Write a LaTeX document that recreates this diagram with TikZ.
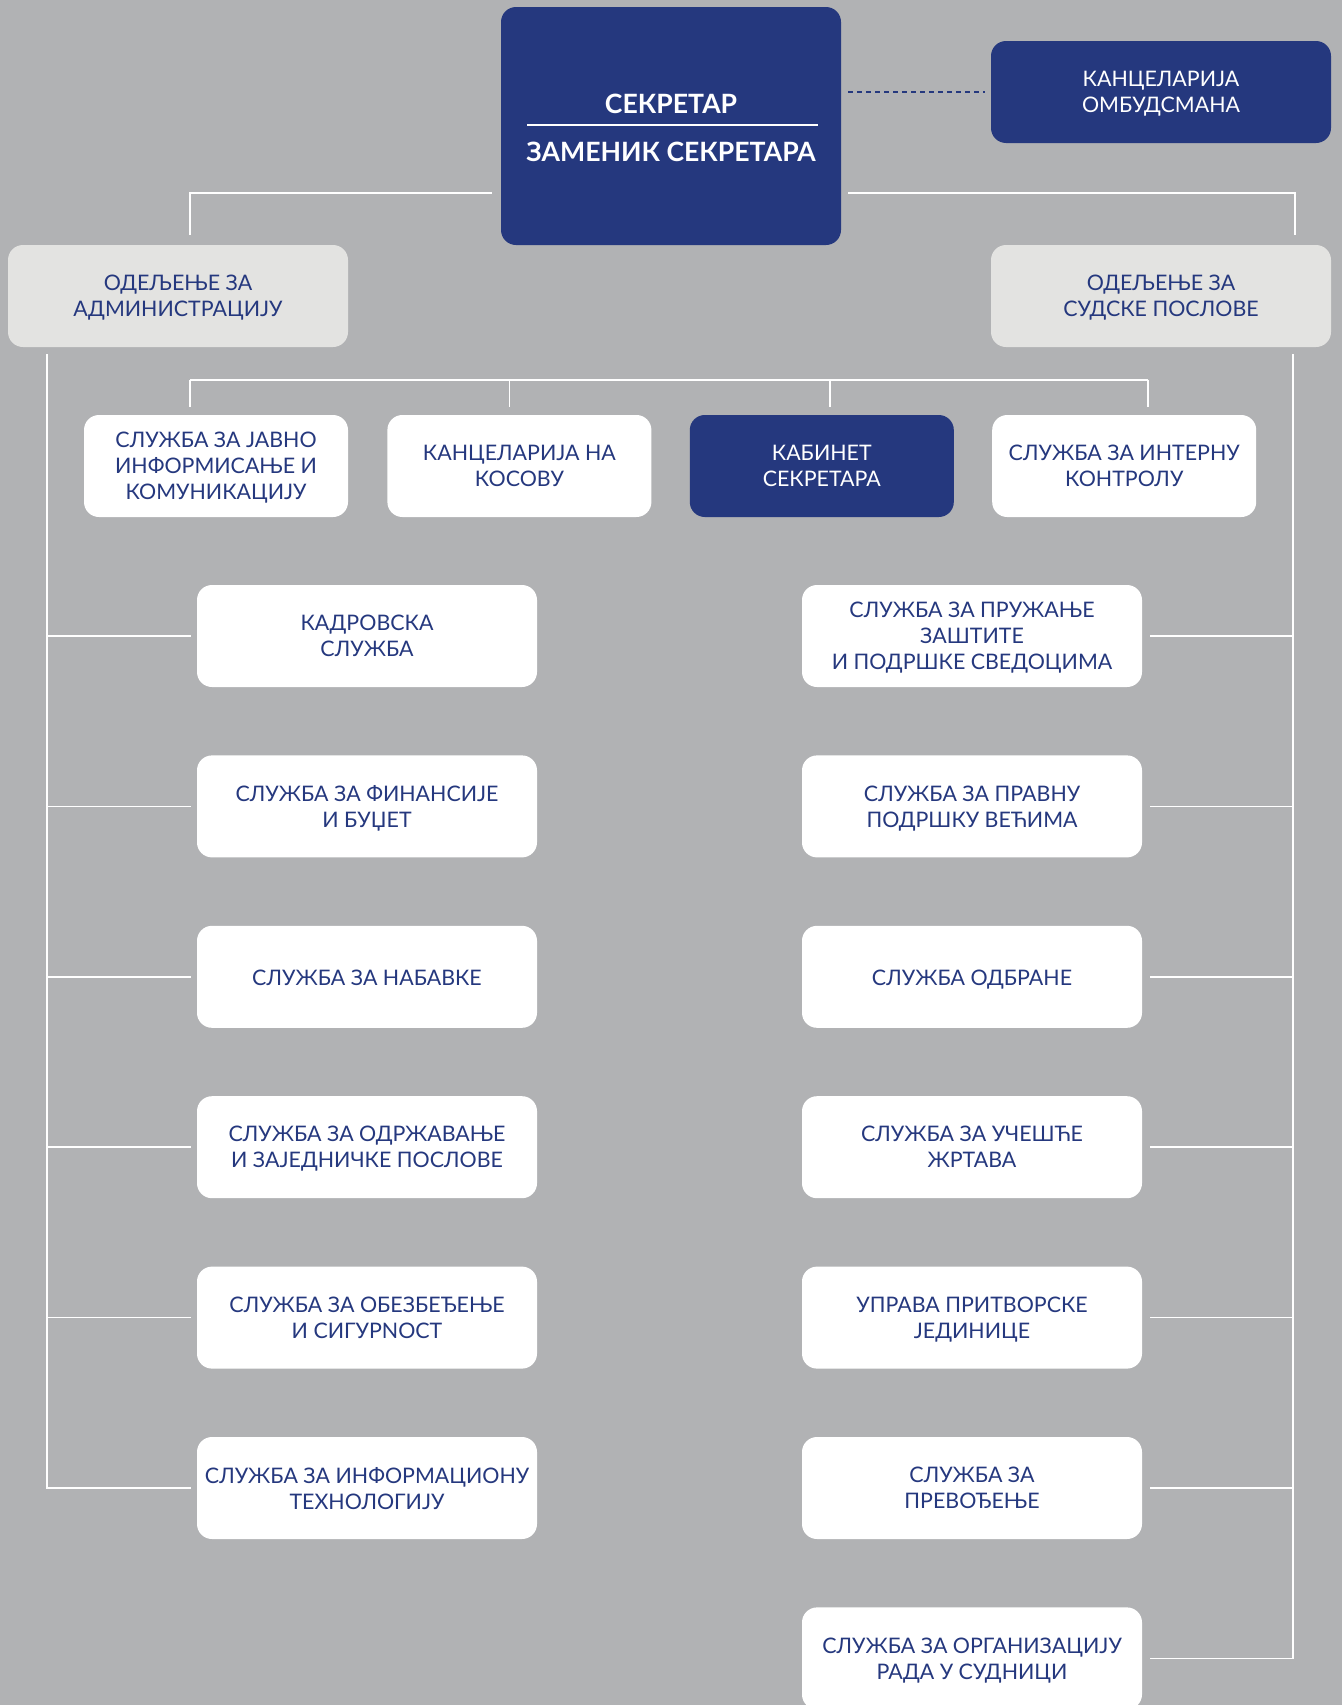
\documentclass[tikz,border=0pt]{standalone}
\usepackage{fontspec}
\setmainfont{Lato}
\usetikzlibrary{positioning}
\definecolor{navy}{RGB}{37,56,126}
\definecolor{bggray}{RGB}{177,178,180}
\definecolor{pale}{RGB}{227,227,225}

\begin{document}
\begin{tikzpicture}[x=1pt, y=-1pt,
  orgbox/.style={rounded corners=15pt, minimum width=340pt, minimum height=102pt,
    align=center, inner sep=0pt, text depth=-2pt, font=\fontsize{21.4}{26}\selectfont,
    text=navy, fill=white},
  onelinebox/.style={orgbox, execute at begin node={\rule{0pt}{17.5pt}}},
  narrowbox/.style={orgbox, minimum width=264pt},
  dark/.style={fill=navy, text=white},
  dept/.style={fill=pale},
  link/.style={draw=white, line width=1.5pt},
  headtext/.style={font=\bfseries\fontsize{26.6}{30}\selectfont, text=white, inner sep=0pt}]

  \useasboundingbox (0,0) rectangle (1342,1705);
  \fill[bggray] (0,0) rectangle (1342,1705);
  \clip (0,0) rectangle (1342,1705);

  % top
  \node[orgbox, dark, minimum height=238pt] (sec) at (671,126) {};
  \node[headtext] (sectitle) at (671,104) {СЕКРЕТАР};
  \node[headtext] (deputy) at (671,152) {ЗАМЕНИК СЕКРЕТАРА};
  \draw[white, line width=1.2pt] (527,125) -- (818,125);
  \node[orgbox, dark] (omb) at (1161,92) {КАНЦЕЛАРИЈА\\ОМБУДСМАНА};

  % departments
  \node[orgbox, dept] (adm) at (178,296) {ОДЕЉЕЊЕ ЗА\\АДМИНИСТРАЦИЈУ};
  \node[orgbox, dept] (jud) at (1161,296) {ОДЕЉЕЊЕ ЗА\\СУДСКЕ ПОСЛОВЕ};

  % second row
  \node[narrowbox] (pub) at (216,466) {СЛУЖБА ЗА ЈАВНО\\ИНФОРМИСАЊЕ И\\КОМУНИКАЦИЈУ};
  \node[narrowbox, right=39pt of pub] (kos) {КАНЦЕЛАРИЈА НА\\КОСОВУ};
  \node[narrowbox, dark, right=38pt of kos] (cab) {КАБИНЕТ\\СЕКРЕТАРА};
  \node[narrowbox, right=38pt of cab] (ctrl) {СЛУЖБА ЗА ИНТЕРНУ\\КОНТРОЛУ};

  % administration
  \node[orgbox] (kadr) at (367,636) {КАДРОВСКА\\СЛУЖБА};
  \node[orgbox, below=68pt of kadr] (fin) {СЛУЖБА ЗА ФИНАНСИЈЕ\\И БУЏЕТ};
  \node[onelinebox, below=68pt of fin] (nab) {СЛУЖБА ЗА НАБАВКЕ};
  \node[orgbox, below=68pt of nab] (odr) {СЛУЖБА ЗА ОДРЖАВАЊЕ\\И ЗАЈЕДНИЧКЕ ПОСЛОВЕ};
  \node[orgbox, below=68pt of odr] (obez) {СЛУЖБА ЗА ОБЕЗБЕЂЕЊЕ\\И СИГУРNОСТ};
  \node[orgbox, below=68pt of obez] (it) {СЛУЖБА ЗА ИНФОРМАЦИОНУ\\ТЕХНОЛОГИЈУ};

  % judicial
  \node[orgbox] (svjed) at (972,636) {СЛУЖБА ЗА ПРУЖАЊЕ\\ЗАШТИТЕ\\И ПОДРШКЕ СВЕДОЦИМА};
  \node[orgbox, below=68pt of svjed] (prav) {СЛУЖБА ЗА ПРАВНУ\\ПОДРШКУ ВЕЋИМА};
  \node[onelinebox, below=68pt of prav] (odbr) {СЛУЖБА ОДБРАНЕ};
  \node[orgbox, below=68pt of odbr] (zrtve) {СЛУЖБА ЗА УЧЕШЋЕ\\ЖРТАВА};
  \node[orgbox, below=68pt of zrtve] (pritv) {УПРАВА ПРИТВОРСКЕ\\ЈЕДИНИЦЕ};
  \node[orgbox, below=68pt of pritv] (prev) {СЛУЖБА ЗА\\ПРЕВОЂЕЊЕ};
  \node[orgbox, below=68pt of prev] (sud) {СЛУЖБА ЗА ОРГАНИЗАЦИЈУ\\РАДА У СУДНИЦИ};

  % links
  \draw[link, shorten <=9pt, shorten >=10pt] ([yshift=52pt]sec.south west) -| ([xshift=12pt]adm.north);
  \draw[link, shorten <=7pt, shorten >=10pt] ([yshift=52pt]sec.south east) -| ([xshift=134pt]jud.north);
  \draw[navy, line width=1.2pt, dash pattern=on 5pt off 4pt, shorten <=7pt, shorten >=6pt]
    (omb.west -| sec.east) -- (omb.west);

  \draw[link] ([xshift=-26pt, yshift=35pt]pub.north) -- ([xshift=24pt, yshift=35pt]ctrl.north);
  \foreach \n/\dx in {pub/-26, kos/-10, cab/8, ctrl/24}
    \draw[link] ([xshift=\dx pt, yshift=35pt]\n.north) -- ([xshift=\dx pt, yshift=8pt]\n.north);

  \coordinate (lspine) at ([xshift=-131pt, yshift=-7pt]adm.south);
  \draw[link] (lspine) |- ([xshift=-6pt]it.west);
  \foreach \n in {kadr, fin, nab, odr, obez}
    \draw[link] (lspine |- \n.west) -- ([xshift=-6pt]\n.west);

  \coordinate (rspine) at ([xshift=132pt, yshift=-7pt]jud.south);
  \draw[link] (rspine) |- ([xshift=8pt]sud.east);
  \foreach \n in {svjed, prav, odbr, zrtve, pritv, prev}
    \draw[link] (rspine |- \n.east) -- ([xshift=8pt]\n.east);
\end{tikzpicture}
\end{document}
